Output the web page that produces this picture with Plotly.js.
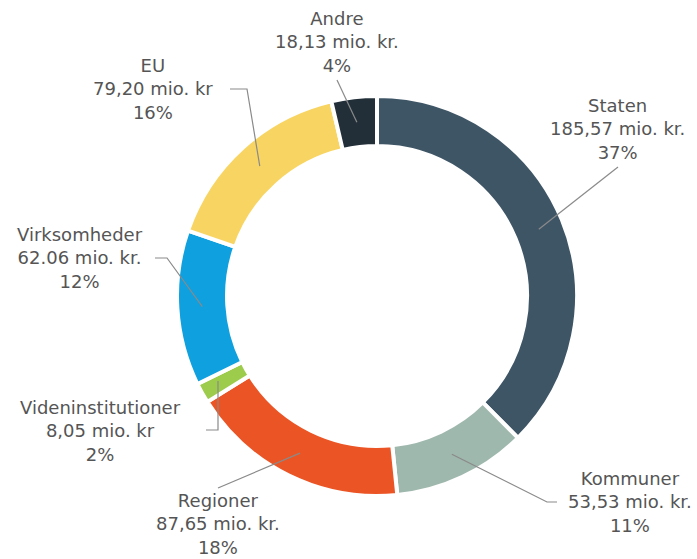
<!DOCTYPE html>
<html>
<head>
<meta charset="utf-8">
<script src="https://cdn.plot.ly/plotly-3.0.1.min.js"></script>
<style>html,body{margin:0;padding:0;background:#fff}#chart{width:697px;height:559px}</style>
</head>
<body>
<div id="chart"></div>
<script>
// Data
var categories = ["Staten", "Kommuner", "Regioner", "Videninstitutioner", "Virksomheder", "EU", "Andre"];
var values = [185.57, 53.53, 87.65, 8.05, 62.06, 79.20, 18.13];
var valueLabels = ["185,57 mio. kr.", "53,53 mio. kr.", "87,65 mio. kr.", "8,05 mio. kr", "62.06 mio. kr.", "79,20 mio. kr", "18,13 mio. kr."];
var percentLabels = ["37%", "11%", "18%", "2%", "12%", "16%", "4%"];
var colors = ["#3e5566", "#9fb8ad", "#eb5424", "#9dcb4b", "#0ea0df", "#f8d563", "#222f39"];

// Layout geometry (pixels)
var W = 697, H = 559;
var cx = 377, cy = 296, R = 200, holeFrac = 0.75;
function px(x){ return x / W; }
function py(y){ return 1 - y / H; }

// label placement: text centre x, middle-line y, leader bend points
var labelPos = {
  "Staten":             {x: 617, y: 129, path: [[618,167]]},
  "Kommuner":           {x: 630, y: 502, path: [[547,502],[557,502]]},
  "Regioner":           {x: 218, y: 524, path: [[218,488]]},
  "Videninstitutioner": {x: 100, y: 431, path: [[218,430],[206,430]]},
  "Virksomheder":       {x: 80,  y: 258, path: [[167,258],[155,258]]},
  "EU":                 {x: 153, y: 89,  path: [[247,89],[230,89]]},
  "Andre":              {x: 337, y: 42,  path: [[337,80]]}
};

var total = values.reduce(function(a,b){return a+b;}, 0);
var annotations = [], shapes = [];
var cum = 0;
for (var i = 0; i < categories.length; i++) {
  var mid = (cum + values[i] / 2) / total * 2 * Math.PI;
  cum += values[i];
  var rMid = R * (1 + holeFrac) / 2;
  var sx = cx + rMid * Math.sin(mid);
  var sy = cy - rMid * Math.cos(mid);
  var lp = labelPos[categories[i]];
  var pts = [[sx, sy]];
  if (categories[i] === "Videninstitutioner") pts = [[lp.path[0][0], sy]];
  pts = pts.concat(lp.path);
  var d = "M" + px(pts[0][0]) + "," + py(pts[0][1]);
  for (var k = 1; k < pts.length; k++) d += " L" + px(pts[k][0]) + "," + py(pts[k][1]);
  shapes.push({type: "path", xref: "paper", yref: "paper", path: d, line: {color: "#8a8a8a", width: 1.2}});
  annotations.push({
    xref: "paper", yref: "paper", x: px(lp.x), y: py(lp.y),
    xanchor: "center", yanchor: "middle", showarrow: false, align: "center",
    text: categories[i] + "<br>" + valueLabels[i] + "<br>" + percentLabels[i],
    font: {family: "DejaVu Sans, Verdana, sans-serif", size: 18, color: "#555555"}
  });
}

var data = [{
  type: "pie",
  labels: categories,
  values: values,
  hole: holeFrac,
  sort: false,
  direction: "clockwise",
  rotation: 0,
  textinfo: "none",
  hoverinfo: "label+value+percent",
  marker: {colors: colors, line: {color: "#ffffff", width: 4}},
  domain: {x: [px(cx - R), px(cx + R)], y: [py(cy + R), py(cy - R)]},
  showlegend: false
}];

var layout = {
  width: W, height: H,
  margin: {l: 0, r: 0, t: 0, b: 0},
  paper_bgcolor: "#ffffff",
  showlegend: false,
  annotations: annotations,
  shapes: shapes
};

Plotly.newPlot("chart", data, layout, {displayModeBar: false, staticPlot: true});
</script>
</body>
</html>
